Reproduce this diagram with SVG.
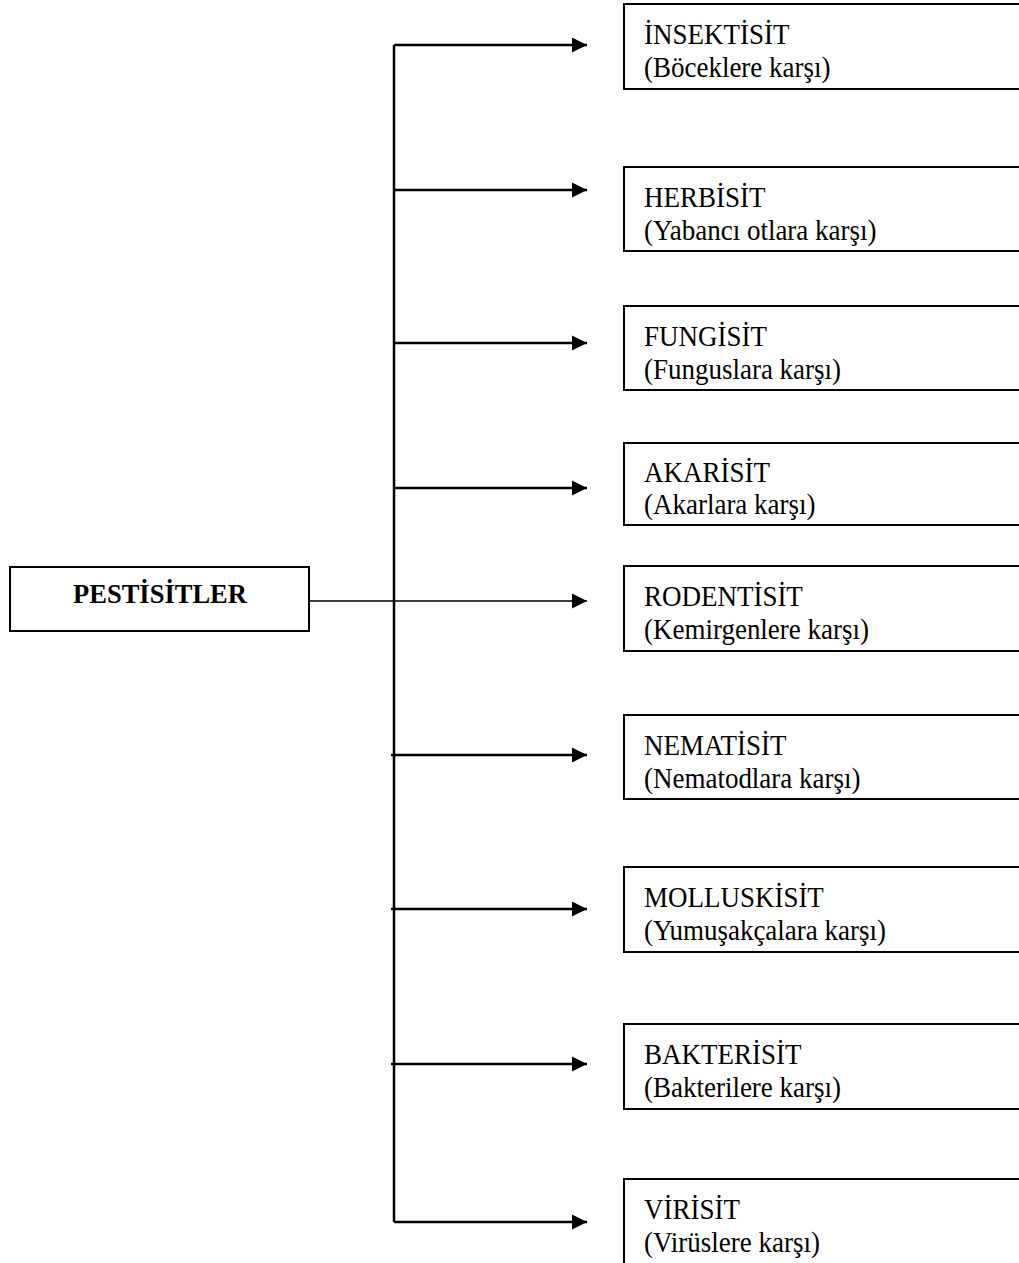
<svg xmlns="http://www.w3.org/2000/svg" width="1019" height="1263" viewBox="0 0 1019 1263">
<style>
.box{fill:#fff;stroke:#000;stroke-width:2}
.t{font-family:"Liberation Serif","Times New Roman",serif;font-size:30px;fill:#000}
.b{font-size:26.5px;font-weight:bold;text-anchor:middle}
.c{fill:none;stroke:#000;stroke-width:2.5}
.thin{stroke-width:1.5}
</style>
<defs>
<marker id="ah" markerUnits="userSpaceOnUse" markerWidth="16" markerHeight="16" refX="15" refY="8" orient="auto">
<path d="M0,0.5 L15,8 L0,15.5 Z" fill="#000"/>
</marker>
</defs>
<g id="connectors">
<path class="c" d="M394,45 L394,1222"/>
<path class="c" d="M394,45 L587,45" marker-end="url(#ah)"/>
<path class="c" d="M394,190 L587,190" marker-end="url(#ah)"/>
<path class="c" d="M394,343 L587,343" marker-end="url(#ah)"/>
<path class="c" d="M394,488 L587,488" marker-end="url(#ah)"/>
<path class="c thin" d="M309,601 L587,601" marker-end="url(#ah)"/>
<path class="c" d="M391,755 L587,755" marker-end="url(#ah)"/>
<path class="c" d="M391,909 L587,909" marker-end="url(#ah)"/>
<path class="c" d="M391,1064 L587,1064" marker-end="url(#ah)"/>
<path class="c" d="M394,1222 L587,1222" marker-end="url(#ah)"/>
</g>
<g id="pestisitler">
<rect class="box" x="10" y="567" width="299" height="64"/>
<text class="t b" x="160" y="603">PESTİSİTLER</text>
</g>
<g id="insektisit">
<rect class="box" x="624" y="4" width="420" height="85"/>
<text class="t" transform="translate(644 44) scale(0.9 1)">İNSEKTİSİT</text>
<text class="t" transform="translate(644 77) scale(0.9 1)">(Böceklere karşı)</text>
</g>
<g id="herbisit">
<rect class="box" x="624" y="167" width="420" height="84"/>
<text class="t" transform="translate(644 207) scale(0.9 1)">HERBİSİT</text>
<text class="t" transform="translate(644 240) scale(0.9 1)">(Yabancı otlara karşı)</text>
</g>
<g id="fungisit">
<rect class="box" x="624" y="306" width="420" height="84"/>
<text class="t" transform="translate(644 346) scale(0.9 1)">FUNGİSİT</text>
<text class="t" transform="translate(644 379) scale(0.9 1)">(Funguslara karşı)</text>
</g>
<g id="akarisit">
<rect class="box" x="624" y="443" width="420" height="82"/>
<text class="t" transform="translate(644 482) scale(0.9 1)">AKARİSİT</text>
<text class="t" transform="translate(644 514) scale(0.9 1)">(Akarlara karşı)</text>
</g>
<g id="rodentisit">
<rect class="box" x="624" y="566" width="420" height="85"/>
<text class="t" transform="translate(644 606) scale(0.9 1)">RODENTİSİT</text>
<text class="t" transform="translate(644 639) scale(0.9 1)">(Kemirgenlere karşı)</text>
</g>
<g id="nematisit">
<rect class="box" x="624" y="715" width="420" height="84"/>
<text class="t" transform="translate(644 755) scale(0.9 1)">NEMATİSİT</text>
<text class="t" transform="translate(644 788) scale(0.9 1)">(Nematodlara karşı)</text>
</g>
<g id="molluskisit">
<rect class="box" x="624" y="867" width="420" height="85"/>
<text class="t" transform="translate(644 907) scale(0.9 1)">MOLLUSKİSİT</text>
<text class="t" transform="translate(644 940) scale(0.9 1)">(Yumuşakçalara karşı)</text>
</g>
<g id="bakterisit">
<rect class="box" x="624" y="1024" width="420" height="85"/>
<text class="t" transform="translate(644 1064) scale(0.9 1)">BAKTERİSİT</text>
<text class="t" transform="translate(644 1097) scale(0.9 1)">(Bakterilere karşı)</text>
</g>
<g id="virisit">
<rect class="box" x="624" y="1179" width="420" height="100"/>
<text class="t" transform="translate(644 1219) scale(0.9 1)">VİRİSİT</text>
<text class="t" transform="translate(644 1252) scale(0.9 1)">(Virüslere karşı)</text>
</g>
</svg>
